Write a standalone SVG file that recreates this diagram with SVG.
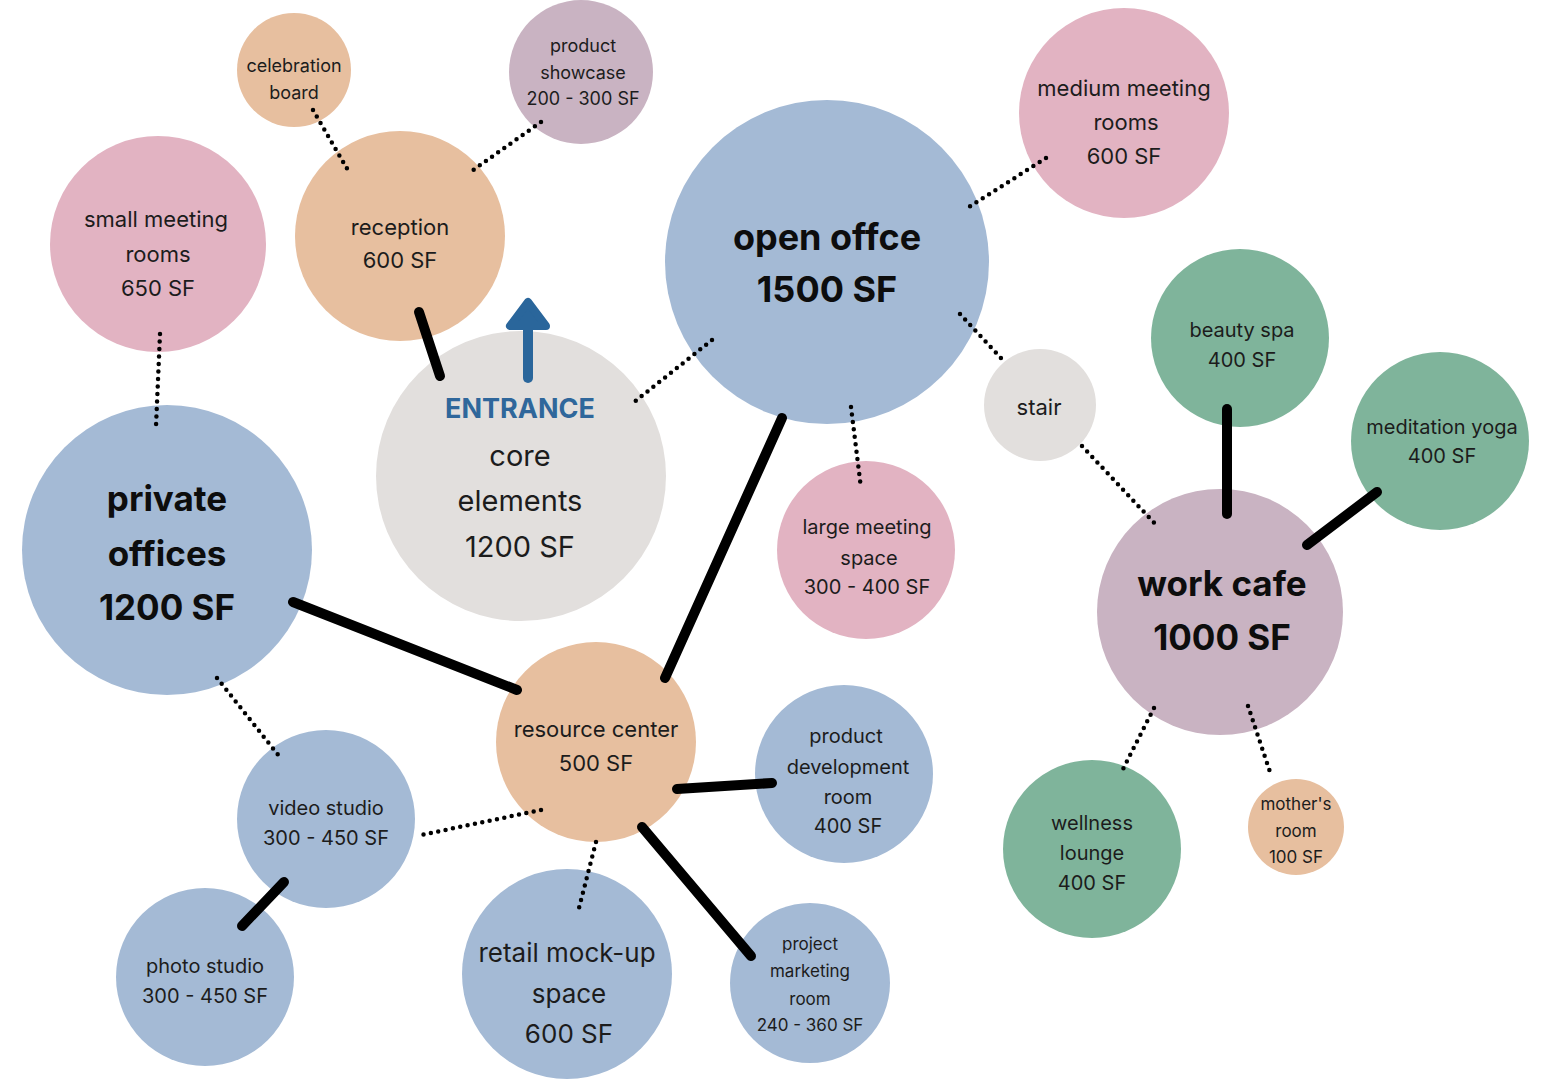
<svg xmlns="http://www.w3.org/2000/svg" width="1547" height="1080" viewBox="0 0 1547 1080">
<style>
text{font-family:Inter,"Noto Sans","DejaVu Sans",sans-serif;fill:#1c1c1c;text-anchor:middle;dominant-baseline:central}
.b{font-weight:700;fill:#0d0d0d}
.blue{fill:#A4BAD5}.pink{fill:#E2B3C2}.peach{fill:#E7BF9F}.mauve{fill:#C9B3C2}.green{fill:#7FB49B}.grey{fill:#E2DFDD}
.solid{stroke:#000;stroke-width:10;stroke-linecap:round;fill:none}
.dot{stroke:#000;stroke-width:4.5;stroke-linecap:round;stroke-dasharray:0 7.5;fill:none}
</style>
<rect width="1547" height="1080" fill="#fff"/>
<g id="nodes-bg">
<g id="celebration"><circle class="peach" cx="294" cy="70" r="57"/><text font-size="18" x="294" y="65">celebration</text><text font-size="18" x="294" y="92">board</text></g>
<g id="showcase"><circle class="mauve" cx="581" cy="72" r="72"/><text font-size="18" x="583" y="45">product</text><text font-size="18" x="583" y="72">showcase</text><text font-size="18" x="583" y="98">200 - 300 SF</text></g>
<g id="reception"><circle class="peach" cx="400" cy="236" r="105"/><text font-size="22" x="400" y="227">reception</text><text font-size="22" x="400" y="260">600 SF</text></g>
<g id="small-meeting"><circle class="pink" cx="158" cy="244" r="108"/><text font-size="22" x="156" y="219">small meeting</text><text font-size="22" x="158" y="254">rooms</text><text font-size="22" x="158" y="288">650 SF</text></g>
<g id="open-office"><circle class="blue" cx="827" cy="262" r="162"/><text class="b" font-size="36" x="827" y="237">open offce</text><text class="b" font-size="36" x="827" y="289">1500 SF</text></g>
<g id="medium-meeting"><circle class="pink" cx="1124" cy="113" r="105"/><text font-size="22" x="1124" y="88">medium meeting</text><text font-size="22" x="1126" y="122">rooms</text><text font-size="22" x="1124" y="156">600 SF</text></g>
<g id="core"><circle class="grey" cx="521" cy="476" r="145"/><text class="b" font-size="27" x="520" y="408" style="fill:#2F679B">ENTRANCE</text><text font-size="29" x="520" y="455">core</text><text font-size="29" x="520" y="500">elements</text><text font-size="29" x="520" y="546">1200 SF</text></g>
<g id="private-offices"><circle class="blue" cx="167" cy="550" r="145"/><text class="b" font-size="35" x="167" y="498">private</text><text class="b" font-size="35" x="167" y="553">offices</text><text class="b" font-size="35" x="167" y="607">1200 SF</text></g>
<g id="stair"><circle class="grey" cx="1040" cy="405" r="56"/><text font-size="22" x="1039" y="407">stair</text></g>
<g id="beauty-spa"><circle class="green" cx="1240" cy="338" r="89"/><text font-size="20" x="1242" y="330">beauty spa</text><text font-size="20" x="1242" y="360">400 SF</text></g>
<g id="meditation"><circle class="green" cx="1440" cy="441" r="89"/><text font-size="20" x="1442" y="427">meditation yoga</text><text font-size="20" x="1442" y="456">400 SF</text></g>
<g id="large-meeting"><circle class="pink" cx="866" cy="550" r="89"/><text font-size="20" x="867" y="527">large meeting</text><text font-size="20" x="869" y="558">space</text><text font-size="20" x="867" y="587">300 - 400 SF</text></g>
<g id="work-cafe"><circle class="mauve" cx="1220" cy="612" r="123"/><text class="b" font-size="35" x="1222" y="583">work cafe</text><text class="b" font-size="35" x="1222" y="637">1000 SF</text></g>
<g id="resource"><circle class="peach" cx="596" cy="742" r="100"/><text font-size="22" x="596" y="729">resource center</text><text font-size="22" x="596" y="763">500 SF</text></g>
<g id="product-dev"><circle class="blue" cx="844" cy="774" r="89"/><text font-size="20" x="846" y="736">product</text><text font-size="20" x="848" y="767">development</text><text font-size="20" x="848" y="797">room</text><text font-size="20" x="848" y="826">400 SF</text></g>
<g id="video"><circle class="blue" cx="326" cy="819" r="89"/><text font-size="20" x="326" y="808">video studio</text><text font-size="20" x="326" y="838">300 - 450 SF</text></g>
<g id="photo"><circle class="blue" cx="205" cy="977" r="89"/><text font-size="20" x="205" y="966">photo studio</text><text font-size="20" x="205" y="996">300 - 450 SF</text></g>
<g id="retail"><circle class="blue" cx="567" cy="974" r="105"/><text font-size="26" x="567" y="952">retail mock-up</text><text font-size="26" x="569" y="993">space</text><text font-size="26" x="569" y="1033">600 SF</text></g>
<g id="project-marketing"><circle class="blue" cx="810" cy="983" r="80"/><text font-size="17" x="810" y="944">project</text><text font-size="17" x="810" y="971">marketing</text><text font-size="17" x="810" y="999">room</text><text font-size="17" x="810" y="1025">240 - 360 SF</text></g>
<g id="wellness"><circle class="green" cx="1092" cy="849" r="89"/><text font-size="20" x="1092" y="823">wellness</text><text font-size="20" x="1092" y="853">lounge</text><text font-size="20" x="1092" y="883">400 SF</text></g>
<g id="mothers-room"><circle class="peach" cx="1296" cy="827" r="48"/><text font-size="17" x="1296" y="804">mother's</text><text font-size="17" x="1296" y="831">room</text><text font-size="17" x="1296" y="857">100 SF</text></g>
</g>
<g id="connectors">
<line class="solid" x1="419" y1="312" x2="440" y2="376"/>
<line class="solid" x1="293" y1="602" x2="517" y2="690"/>
<line class="solid" x1="665" y1="678" x2="782" y2="418"/>
<line class="solid" x1="677" y1="789" x2="772" y2="783"/>
<line class="solid" x1="642" y1="827" x2="751" y2="956"/>
<line class="solid" x1="284" y1="882" x2="242" y2="926"/>
<line class="solid" x1="1227" y1="409" x2="1227" y2="514"/>
<line class="solid" x1="1377" y1="492" x2="1307" y2="545"/>
<line class="dot" x1="313" y1="110" x2="349" y2="172"/>
<line class="dot" x1="541" y1="122" x2="469" y2="173"/>
<line class="dot" x1="160" y1="334" x2="156" y2="426"/>
<line class="dot" x1="712" y1="340" x2="633" y2="403"/>
<line class="dot" x1="1046" y1="158" x2="969" y2="207"/>
<line class="dot" x1="960" y1="314" x2="1001" y2="358"/>
<line class="dot" x1="851" y1="407" x2="861" y2="488"/>
<line class="dot" x1="1082" y1="446" x2="1159" y2="528"/>
<line class="dot" x1="217" y1="678" x2="279" y2="756"/>
<line class="dot" x1="541" y1="810" x2="421" y2="835"/>
<line class="dot" x1="596" y1="842" x2="578" y2="912"/>
<line class="dot" x1="1154" y1="708" x2="1122" y2="771"/>
<line class="dot" x1="1248" y1="706" x2="1271" y2="775"/>
</g>
<g id="entrance-arrow" stroke="#2A669B" stroke-linecap="round" stroke-linejoin="round" fill="#2A669B">
<line x1="528" y1="378" x2="528" y2="322" stroke-width="10"/>
<polygon points="528,302 510,326 546,326" stroke-width="8"/>
</g>
</svg>
